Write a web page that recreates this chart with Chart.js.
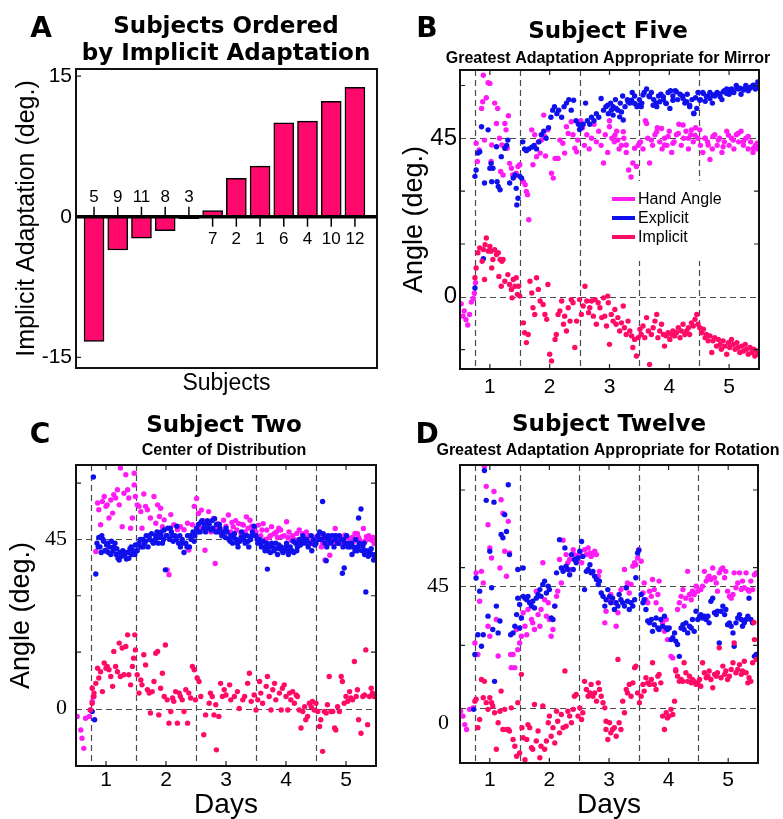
<!DOCTYPE html>
<html>
<head>
<meta charset="utf-8">
<script src="https://cdn.jsdelivr.net/npm/chart.js@4.4.1/dist/chart.umd.min.js"></script>
<style>
  body { margin: 0; background: #fff; }
  #fig { position: relative; width: 783px; height: 819px; overflow: hidden; background: #fff; }
  #fig canvas { position: absolute; }
</style>
</head>
<body>
<div id="fig">
  <canvas id="panelA" width="390" height="400" style="left:0;top:0"></canvas>
  <canvas id="panelB" width="393" height="400" style="left:390px;top:0"></canvas>
  <canvas id="panelC" width="390" height="419" style="left:0;top:400px"></canvas>
  <canvas id="panelD" width="393" height="419" style="left:390px;top:400px"></canvas>
</div>
<script>
// ---- panel A data ----
const subjectOrder = ['5', '9', '11', '8', '3', '7', '2', '1', '6', '4', '10', '12'];
const implicitAdapt = [-13.3, -3.55, -2.3, -1.5, -0.2, 0.65, 4.1, 5.4, 10.0, 10.2, 12.3, 13.8];
const yTicksA = [15, 0, -15];

// ---- scatter panels: [day, angle] ----
const dayTicks = [1, 2, 3, 4, 5];
const sessionBreaks = [0.75, 1.5, 2.5, 3.5, 4.5];
const angleLabels = [0, 45];

const bHand = [
  [0.52,-2],[0.55,-5.5],[0.57,-4],[0.6,-6.5],[0.63,-8],[0.66,-5],[0.69,-1.5],[0.72,-0.5],[0.74,1],[0.76,4],
  [0.77,43.6],[0.79,38.4],[0.82,41.7],[0.86,53.5],[0.88,55.4],[0.89,62.9],[0.91,44.5],[0.94,56.5],[0.97,60.8],[1.0,60.6],[1.02,38.4],[1.03,43.1],[1.08,55],[1.11,49.2],[1.13,53.5],[1.16,45],[1.18,35.6],[1.2,43.1],[1.22,34.6],[1.25,49.2],[1.27,47.4],[1.29,42.2],[1.31,51.4],[1.33,37.9],[1.36,36.5],[1.38,34.6],[1.41,34.2],[1.44,35.1],[1.47,37],[1.5,37.5],[1.56,32.7],[1.59,31.8],[1.61,29.9],[1.63,29],[1.65,21.9],
  [1.7,47.4],[1.72,37.5],[1.75,46],[1.78,39.8],[1.81,44],[1.84,40.8],[1.86,44.5],[1.9,51.6],[1.92,45.5],[1.93,40],[1.97,47.4],[2.03,35.1],[2.06,33.7],[2.09,39.3],[2.14,39.3],[2.17,44.5],[2.22,43.6],[2.25,40.8],[2.28,48.3],[2.31,46.4],[2.36,49.7],[2.39,46],[2.42,42.2],[2.45,41.2],[2.47,44.5],
  [2.52,50],[2.55,48],[2.58,43],[2.62,46],[2.66,42],[2.7,45],[2.74,49],[2.78,44],[2.82,47],[2.86,43],[2.9,38],[2.93,46],[2.97,41],[3.0,50],[3.04,45],[3.08,44],[3.12,47],[3.16,42],[3.2,43],[3.24,45],[3.28,41],[3.32,36],[3.36,34],[3.39,38],[3.42,32],[3.45,37],[3.48,43],
  [3.0,48.3],[3.09,45.9],[3.14,44.5],[3.23,46.9],[3.28,43.1],[3.42,42.2],[3.5,43.6],
  [3.52,44],[3.56,42],[3.6,50],[3.64,45],[3.67,38],[3.72,43],[3.76,46],[3.8,48],[3.84,44],[3.88,42],[3.92,45],[3.96,43],[4.0,47],[4.04,41],[4.08,44],[4.12,46],[4.16,49],[4.2,43],[4.24,45],[4.28,47],[4.32,42],[4.36,46],[4.4,44],[4.44,48],[4.48,45],
  [3.62,49.2],[3.7,44.5],[3.79,46.9],[3.87,47.8],[3.92,43.1],[3.98,45.5],[4.06,43.6],[4.15,46.4],[4.23,48.8],[4.32,45],[4.37,47.4],[4.43,45.9],
  [4.52,43],[4.56,41],[4.6,45],[4.64,44],[4.68,39],[4.72,42],[4.76,46],[4.8,43],[4.84,45],[4.88,41],[4.92,44],[4.96,47],[5.0,43],[5.04,45],[5.08,42],[5.12,46],[5.16,44],[5.2,47],[5.24,43],[5.28,45],[5.32,42],[5.36,44],[5.4,41],[5.44,43],[5.48,42],
  [4.51,47.4],[4.6,45],[4.65,43.1],[4.73,45.5],[4.82,44.5],[4.9,42.6],[4.99,45.9],[5.07,44.5],[5.15,46.4],[5.24,44.1],[5.32,45.5],[5.41,42.2],[5.47,43.6]
];
const bExplicit = [
  [0.75,2.5],[0.89,10.8],
  [0.75,34.2],[0.77,36],[0.8,40.8],[0.83,41.2],[0.86,48.3],[0.91,32.3],[0.97,47.4],[1.0,36.5],[1.02,37.9],[1.03,32.7],[1.05,36.5],[1.11,42.6],[1.12,32.7],[1.14,31.3],[1.17,30.4],[1.19,39.8],[1.25,42.2],[1.28,43],[1.3,44.5],[1.33,32.3],[1.39,33.7],[1.42,34.6],[1.44,30.8],[1.45,26.1],[1.47,28],[1.5,34.2],[1.53,33.7],
  [1.55,44],[1.58,42],[1.61,41.5],[1.65,42],[1.7,42.5],[1.74,43],[1.78,42],[1.82,44],[1.86,46],[1.9,47],[1.94,45],[1.98,48],[2.02,51],[2.05,53],[2.08,54],[2.12,52],[2.15,53],[2.2,51],[2.24,54],[2.28,55],[2.32,56],[2.36,53],[2.4,55.8],[2.44,50],[2.48,49],
  [2.5,47.5],[2.53,48],[2.56,49],[2.6,55],[2.63,50],[2.67,49],[2.7,51],[2.74,50],[2.78,52],[2.82,51],[2.86,56.3],[2.9,53],[2.94,54],[2.98,52],[3.02,55],[3.06,54],[3.1,56],[3.14,53],[3.18,55],[3.22,57],[3.26,54],[3.3,56],[3.34,55],[3.38,58],[3.42,57],[3.46,54],
  [2.97,54.4],[3.03,53],[3.06,51.6],[3.11,53.5],[3.17,51.1],[3.2,52.5],[3.23,50.2],[3.31,55.4],[3.37,55.8],[3.42,54.9],[3.48,54.4],
  [3.5,56],[3.54,55],[3.58,58],[3.62,59],[3.66,57],[3.7,58],[3.74,56],[3.78,55],[3.82,57],[3.86,57.5],[3.9,56],[3.94,55],[3.98,58],[4.02,58.5],[4.06,57],[4.1,58.5],[4.14,56],[4.18,57.5],[4.22,57],[4.26,55],[4.3,57.5],[4.34,54],[4.38,56],[4.41,52],[4.44,56.5],[4.48,58],
  [3.53,54],[3.56,57.3],[3.67,56.8],[3.73,54.4],[3.79,54],[3.84,55.4],[3.9,56.8],[3.95,54.9],[4.01,53.5],[4.06,55.8],[4.12,58.2],[4.23,56.3],[4.29,55.4],[4.34,54.4],[4.41,52.1],[4.46,53.5],
  [4.52,56],[4.56,58],[4.6,55.5],[4.64,57],[4.68,58],[4.72,55],[4.76,57],[4.8,58],[4.84,57.5],[4.88,56],[4.92,58.5],[4.96,59],[5.0,57.5],[5.04,59],[5.08,58],[5.12,60],[5.16,59],[5.2,57.5],[5.24,59],[5.28,60],[5.32,58.5],[5.36,59.5],[5.4,60],[5.44,59],[5.48,61],
  [4.51,55.8],[4.57,57.7],[4.62,56.8],[4.68,56.3],[4.73,57.3],[4.79,57.7],[4.85,56.8],[4.9,58.2],[4.96,57.7],[5.01,58.7],[5.07,58.2],[5.13,59.2],[5.18,59.2],[5.24,58.7],[5.29,59.6],[5.35,59.2],[5.41,60.1],[5.46,59.6]
];
const bImplicit = [
  [0.75,5.4],[0.77,8.2],[0.8,12.5],[0.83,13.9],[0.87,10.1],[0.89,13.4],[0.91,4.9],[0.92,14.8],[0.94,16.7],[0.97,13],[1.0,14.3],[1.02,12.9],[1.03,8.2],[1.05,10.6],[1.08,13.4],[1.11,12],[1.14,12.5],[1.15,5.8],[1.17,10.6],[1.19,3],[1.2,10.1],[1.22,10.6],[1.25,4.4],[1.3,6.3],[1.33,3.5],[1.36,2.1],[1.37,-0.3],[1.39,4.9],[1.42,3],[1.44,5.4],[1.46,0.7],[1.48,3],[1.5,0.2],
  [1.56,-7.4],[1.58,-10.2],[1.61,-13],[1.64,-10.7],[1.67,4.4],[1.7,1.1],[1.72,-3.1],[1.75,-5],[1.78,5.4],[1.81,2.1],[1.84,-1.2],[1.89,-2.2],[1.92,-5],[1.95,-6.4],[1.97,3.5],[2.0,-16.3],[2.03,-18.2],[2.09,-12.1],[2.11,-10.7],[2.14,-5],[2.17,-4],[2.2,-1.2],[2.23,-7.8],[2.25,-5.5],[2.28,-9.7],[2.31,-3.1],[2.34,-6.9],[2.36,-0.8],[2.39,-1.7],[2.42,-14.4],[2.45,-6.9],
  [2.5,-0.8],[2.53,-5],[2.56,-2.6],[2.59,3],[2.62,-1.2],[2.65,-4.5],[2.67,-3.1],[2.7,-1.2],[2.73,-5.5],[2.76,-0.8],[2.78,-7.8],[2.81,-1.7],[2.84,-3.1],[2.87,-5.9],[2.9,-0.3],[2.92,-5.5],[2.95,-8.3],[2.97,0.2],[2.98,-1.7],
  [3.0,-13.5],[3.03,-5],[3.06,-6.9],[3.09,-3.6],[3.11,-7.8],[3.14,-5.9],[3.17,-9.7],[3.2,-7.4],[3.23,-2.6],[3.25,-8.8],[3.28,-10.7],[3.31,-6.9],[3.34,-9.7],[3.37,-11.1],[3.39,-14.4],[3.42,-12.1],[3.45,-16.8],[3.48,-11.6],
  [3.51,-9.2],[3.53,-10.7],[3.56,-8.3],[3.59,-11.6],[3.62,-5.9],[3.65,-9.7],[3.67,-19.2],[3.7,-10.7],[3.73,-8.8],[3.76,-6.9],[3.79,-5],[3.81,-11.6],[3.84,-9.7],[3.87,-7.8],[3.9,-10.7],[3.92,-14],[3.95,-11.1],[3.98,-10.2],[4.01,-12.1],[4.04,-10.7],[4.06,-9.7],[4.09,-11.1],[4.12,-10.2],[4.15,-8.8],[4.18,-11.6],[4.2,-9.7],[4.23,-7.8],[4.26,-10.7],[4.29,-9.7],[4.32,-8.8],[4.34,-10.7],[4.37,-7.4],[4.4,-8.3],[4.43,-6.4],[4.46,-5],[4.48,-7.8],
  [4.51,-8.8],[4.54,-10.2],[4.57,-9.2],[4.6,-11.6],[4.62,-10.7],[4.65,-12.5],[4.68,-11.1],[4.71,-15.8],[4.73,-12.5],[4.76,-11.6],[4.79,-14],[4.82,-12.1],[4.85,-13.5],[4.87,-14.9],[4.9,-12.5],[4.93,-14],[4.96,-16.3],[4.99,-13],[5.01,-14.4],[5.04,-12.1],[5.07,-13.5],[5.1,-14.9],[5.13,-13],[5.15,-14.4],[5.18,-15.8],[5.21,-14],[5.24,-15.4],[5.27,-13.5],[5.29,-14.9],[5.32,-16.3],[5.35,-14.4],[5.38,-15.8],[5.41,-14.9],[5.43,-16.8],[5.46,-15.4],[5.49,-16.3]
];

const cHand = [
  [0.52,-2.1],[0.58,-5.7],[0.6,-7.9],[0.63,-10.6],[0.66,-2.6],[0.72,-2.1],[0.74,-0.4],[0.77,1.9],[0.8,3.2],
  [0.83,41.8],[0.86,54.7],[0.88,52.9],[0.91,48.9],[0.94,55.1],[0.97,56.4],[1.0,53.8],[1.02,54.2],[1.05,50.7],[1.08,55.5],[1.11,52],[1.13,56.9],[1.16,56],[1.19,58.2],[1.22,54.2],[1.24,64],[1.27,48.4],[1.3,57.3],[1.33,62.2],[1.36,58.2],[1.38,56],[1.41,48],[1.44,50.7],[1.47,62.6],[1.47,59.5],[1.49,56.4],[1.52,54.2],
  [1.55,53.8],[1.58,52.4],[1.6,48],[1.63,57.1],[1.66,53.8],[1.69,52.9],[1.74,50.7],[1.8,56.4],[1.83,49.3],[1.86,54.2],[1.89,51.1],[1.91,53.3],[1.94,48.4],[1.97,50.2],[2.02,36.9],[2.05,35.6],[2.08,51.6],[2.13,48.9],[2.19,47.6],[2.24,48.4],[2.3,47.6],[2.36,49.3],[2.38,42.2],[2.44,48.9],[2.47,53.8],
  [2.51,55.9],[2.54,51.9],[2.57,48],[2.59,52.8],[2.62,50],[2.65,42.1],[2.68,49.5],[2.71,52.4],[2.75,47],[2.79,50.6],[2.82,38.6],[2.84,48],[2.87,49.2],[2.92,47],[2.96,50.1],[3.0,48.5],[3.04,51.5],[3.08,47],[3.12,48.4],[3.16,50],[3.21,49.2],[3.25,46.5],[3.29,48.8],[3.34,51],[3.37,48],[3.4,50.1],[3.46,47.5],[3.5,47],
  [3.02,47],[3.1,49.5],[3.18,47.5],[3.27,49],[3.32,47],[3.43,48.5],[3.48,46],
  [3.54,48.8],[3.58,46],[3.62,49.2],[3.68,47.5],[3.72,45.5],[3.76,48.4],[3.8,46.5],[3.84,47],[3.88,48],[3.93,45.7],[3.97,46],[4.01,49.7],[4.05,47],[4.09,44.8],[4.14,45],[4.18,46.6],[4.22,47.5],[4.26,44.4],[4.3,45.5],[4.34,47],[4.38,46],[4.43,43.9],[4.47,45.5],
  [3.6,47.5],[3.66,45],[3.74,46],[3.86,45.5],[3.91,47.5],[4.03,45.5],[4.11,46],[4.2,44],[4.28,46.5],[4.36,45],[4.45,44.5],
  [4.51,44.8],[4.55,46],[4.59,43],[4.63,45],[4.65,39.5],[4.69,44],[4.73,40.8],[4.77,45.5],[4.82,47.9],[4.86,45],[4.9,43.9],[4.94,44.5],[4.98,46.1],[5.02,44],[5.07,45.3],[5.11,45.5],[5.15,46.6],[5.19,46.5],[5.23,44.8],[5.26,44],[5.29,47.9],[5.34,45.7],[5.38,46],[5.43,44.8],[5.45,45.5],[5.47,43.9],
  [4.53,45.5],[4.61,44],[4.71,46],[4.79,44],[4.84,46],[4.92,45],[5.0,45.5],[5.05,44],[5.13,44.5],[5.21,45.5],[5.32,44.5],[5.4,45],[5.49,44.5]
];
const cExplicit = [
  [0.77,-0.8],[0.81,-3],[0.79,61.6],[0.83,35.8],
  [0.85,44],[0.88,45.5],[0.9,43],[0.93,46],[0.96,44.5],[0.98,42],[1.01,43.5],[1.04,41.5],[1.06,43],[1.09,44.5],[1.12,42],[1.15,44],[1.17,41],[1.2,40],[1.23,41.5],[1.26,40.5],[1.28,42],[1.31,41],[1.34,39.8],[1.37,41.5],[1.4,42.5],[1.43,41],[1.46,42],[1.49,43.5],
  [0.87,43],[0.92,41.5],[0.95,45],[1.0,42],[1.03,44],[1.08,41],[1.13,43],[1.18,42.5],[1.22,39.5],[1.27,41],[1.33,41.5],[1.38,40],[1.42,43],[1.48,41],
  [1.52,42],[1.55,44],[1.58,43],[1.61,45],[1.64,44],[1.67,46],[1.7,43],[1.73,45],[1.76,46.5],[1.79,44],[1.82,45],[1.85,47],[1.88,45.5],[1.91,46],[1.94,44],[1.97,47.5],[1.99,36.9],[2.0,46],[2.03,48],[2.06,45],[2.09,47],[2.12,44.5],[2.15,46],[2.18,48.5],[2.21,44],[2.24,43],[2.27,45],[2.3,41.5],[2.33,44],[2.36,46],[2.39,43],[2.42,45],[2.45,47],
  [1.53,43.5],[1.57,45],[1.62,43],[1.66,44.5],[1.72,46],[1.77,44.5],[1.83,46],[1.87,44],[1.92,47],[1.96,45],[2.02,46],[2.07,48],[2.11,46],[2.17,45],[2.23,46],[2.28,44],[2.35,43],[2.4,46],[2.47,44.5],
  [2.48,46],[2.51,48],[2.54,49],[2.57,47],[2.6,50],[2.63,48],[2.66,47],[2.69,50],[2.72,49],[2.75,47.5],[2.78,48],[2.81,50.5],[2.84,49],[2.87,47],[2.9,48],[2.93,46],[2.96,47],[2.99,45.5],[3.02,47],[3.05,45],[3.08,46],[3.11,44],[3.14,46.5],[3.17,45],[3.2,43],[3.23,44.5],[3.26,47],[3.29,45],[3.32,44],[3.35,46],[3.38,43],[3.41,45],[3.44,47],[3.47,48.5],
  [2.53,47],[2.58,49.5],[2.64,49],[2.7,48],[2.77,50],[2.83,47],[2.89,49],[2.95,46],[3.0,48],[3.07,44.5],[3.13,45.5],[3.19,44],[3.25,45.5],[3.31,46],[3.37,44.5],[3.43,46],
  [3.5,46],[3.53,44],[3.56,45],[3.59,43],[3.62,44.5],[3.65,42],[3.68,44],[3.69,37.1],[3.71,43],[3.74,41.5],[3.77,43],[3.8,42],[3.83,44],[3.86,41],[3.89,42.5],[3.92,43],[3.95,41.5],[3.98,42],[4.01,44],[4.04,41],[4.07,43],[4.1,42],[4.13,41.5],[4.16,44],[4.19,43],[4.22,45],[4.25,44],[4.28,46],[4.31,44],[4.34,45],[4.37,43],[4.4,44],[4.43,42],[4.46,45],
  [3.52,45],[3.58,44],[3.64,43],[3.7,42],[3.76,44],[3.82,42.5],[3.88,43.5],[3.94,42],[4.0,43],[4.06,42],[4.12,44.5],[4.18,42],[4.24,43.5],[4.3,45],[4.36,44],[4.42,46],[4.48,43.5],
  [4.5,44],[4.53,46],[4.56,47],[4.59,45],[4.61,55.1],[4.62,46.5],[4.65,44],[4.67,39.3],[4.68,43],[4.71,45],[4.74,44],[4.77,46],[4.8,43],[4.83,45],[4.86,44],[4.89,46],[4.92,45],[4.94,36],[4.95,43],[4.97,37.4],[4.98,44],[5.01,46],[5.04,44],[5.07,43],[5.1,41],[5.13,43],[5.16,45],[5.19,42],[5.21,50.7],[5.22,44],[5.25,53.1],[5.27,42],[5.28,43],[5.31,41],[5.33,31],[5.34,42],[5.37,40.5],[5.4,42],[5.43,41],[5.46,39.5],[5.49,41],
  [4.55,45],[4.64,45.5],[4.7,46],[4.76,44.5],[4.82,46],[4.88,44],[4.96,45],[5.03,43],[5.09,44],[5.15,42],[5.2,43],[5.3,44],[5.36,41.5],[5.42,42.5],[5.48,40]
];
const cImplicit = [
  [0.74,-0.4],[0.77,1.4],[0.79,3.2],[0.77,5.4],[0.8,4.1],[0.83,6.7],[0.86,10.7],[0.88,8.1],[0.91,9.8],[0.94,4.5],[0.97,12.1],[1.0,10.7],[1.02,11.2],[1.05,10.3],[1.08,8.5],[1.11,5.9],[1.13,15.2],[1.16,11.2],[1.19,9.8],[1.22,17.4],[1.24,8.5],[1.27,16.1],[1.3,9],[1.33,16.5],[1.36,19.6],[1.38,9],[1.41,6.3],[1.44,11.2],[1.46,13.4],[1.48,19.6],[1.49,15.6],
  [1.52,9],[1.55,4.1],[1.58,7.6],[1.6,6.3],[1.63,14.3],[1.66,11.6],[1.69,5],[1.72,4.1],[1.74,-1.2],[1.77,4.5],[1.8,7.2],[1.83,14.7],[1.86,15.2],[1.88,-1.7],[1.91,5.4],[1.94,9.4],[1.97,3.2],[1.99,16.9],[2.02,2.3],[2.05,-3.9],[2.08,-0.8],[2.11,2.8],[2.13,1.9],[2.16,4.5],[2.19,-3.9],[2.22,4.1],[2.24,3.2],[2.27,2.3],[2.3,-0.8],[2.33,5],[2.36,-3.9],[2.38,4.1],[2.41,2.8],[2.44,11.2],[2.47,10.3],[2.49,2.3],
  [2.52,8.1],[2.55,7.2],[2.58,3.2],[2.63,-7],[2.66,-1.7],[2.72,1.4],[2.74,4.1],[2.77,3.2],[2.8,-1.7],[2.83,1],[2.84,-11],[2.88,-2.1],[2.91,6.7],[2.94,3.2],[2.97,5],
  [3.0,3.6],[3.06,6.3],[3.08,2.3],[3.14,3.2],[3.19,4.5],[3.22,0],[3.28,2.3],[3.31,3.2],[3.36,6.7],[3.39,9.4],[3.42,1.9],[3.47,3.6],[3.5,-0.4],[3.53,2.3],[3.56,7.2],[3.58,4.1],[3.61,1.4],[3.67,5.9],[3.69,8.5],[3.72,3.2],[3.75,-0.4],[3.78,5],[3.81,6.7],[3.83,2.3],[3.89,4.1],[3.92,-0.4],[3.94,5.4],[3.97,6.3],[4.0,3.2],[4.03,-0.4],[4.06,4.1],[4.08,2.3],[4.11,4.5],[4.14,1.4],[4.17,3.6],[4.19,3.2],[4.22,-0.4],[4.25,-5.2],[4.28,-0.8],[4.31,0.5],[4.33,-3],[4.36,-2.1],[4.39,1.4],[4.42,0.5],[4.44,1.9],[4.47,-0.4],
  [4.5,1.4],[4.53,-0.8],[4.56,-4.8],[4.58,-3],[4.61,-11.4],[4.64,-0.8],[4.67,-1.2],[4.69,1],[4.72,8.5],[4.75,-0.8],[4.78,-0.8],[4.81,-5.2],[4.83,-5.7],[4.86,0.5],[4.89,-0.8],[4.92,8.5],[4.94,7.2],[4.97,1.4],[5.0,3.2],[5.03,1.9],[5.06,4.5],[5.08,2.8],[5.11,2.3],[5.14,12.5],[5.17,3.2],[5.19,5],[5.21,-3],[5.25,-6.6],[5.28,3.2],[5.31,3.6],[5.33,15.6],[5.36,-4.3],[5.39,3.2],[5.42,5.4],[5.44,4.1],[5.47,3.2]
];

const dHand = [
  [0.51,3.9],[0.55,2.3],[0.58,-0.5],[0.61,-2.1],[0.66,4.5],[0.72,5],
  [0.75,26.3],[0.77,49.3],[0.8,22.5],[0.83,40],[0.86,49.8],[0.89,46],[0.91,84.3],[0.94,77.7],[0.97,65.1],[0.97,31.8],[1.0,57.5],[1.0,28.5],[1.03,54.2],[1.07,76],[1.11,34],[1.14,22],[1.17,50.9],[1.19,73.3],[1.22,68.9],[1.25,56.4],[1.28,48.2],[1.31,66.2],[1.33,55.8],[1.35,22.5],[1.36,18.2],[1.39,22.5],[1.42,18.2],[1.45,30.7],[1.47,24.1],
  [1.5,26.3],[1.53,28.5],[1.56,36.2],[1.59,31.8],[1.62,29],[1.64,37.3],[1.67,39.5],[1.7,34],[1.72,32.9],[1.75,30.7],[1.78,43.3],[1.81,35.6],[1.84,31.8],[1.86,37.3],[1.89,52.6],[1.92,40.5],[1.95,35.1],[1.98,39.5],[2.0,34],[2.03,28.5],[2.06,30.7],[2.09,38.4],[2.12,41.6],[2.14,43.3],[2.17,53.7],[2.2,46],[2.23,60],[2.26,50.9],[2.28,55.3],[2.31,52.6],[2.34,53.7],[2.37,50.4],[2.4,56.9],[2.42,55.3],[2.45,53.1],[2.48,54.7],
  [2.51,55.8],[2.54,52.6],[2.59,56.9],[2.62,55.3],[2.65,57.5],[2.68,55.8],[2.7,54.7],[2.73,55.3],[2.76,56.4],[2.79,55.3],[2.82,48.2],[2.84,49.8],[2.93,32.9],[2.95,36.7],[2.98,40.5],[3.03,42.2],[3.09,39.5],[3.12,31.8],[3.15,36.2],[3.2,43.8],[3.26,50.4],[3.29,44.4],[3.31,46],[3.34,42.7],[3.37,45.5],[3.4,51.5],[3.43,52.6],[3.45,52],[3.48,54.2],
  [3.5,56.9],[3.54,53.1],[3.57,42.7],[3.59,46],[3.62,40.5],[3.65,39.5],[3.68,43.3],[3.71,41.6],[3.73,47.1],[3.76,43.8],[3.79,39.5],[3.82,42.2],[3.84,46.6],[3.87,37.3],[3.9,32.9],[3.93,30.1],[3.96,34],[3.98,27.4],[4.04,21.9],[4.07,21.4],[4.12,17.6],[4.15,37.3],[4.18,39.5],[4.21,41.6],[4.24,43.8],[4.26,38.4],[4.29,41],[4.32,49.8],[4.35,42.2],[4.38,40.5],[4.4,43.3],[4.43,42.2],[4.46,44.9],[4.49,43.3],
  [4.54,43.8],[4.57,44.9],[4.6,49.8],[4.63,46.6],[4.66,47.7],[4.68,48.2],[4.71,47.1],[4.74,50.9],[4.77,47.7],[4.8,46],[4.82,43.3],[4.85,49.3],[4.88,50.4],[4.91,50.9],[4.94,47.7],[4.96,49.8],[4.99,43.3],[5.02,41.6],[5.05,41],[5.08,42.2],[5.1,49.3],[5.13,44.4],[5.16,46],[5.19,49.3],[5.22,43.8],[5.24,46.6],[5.27,44.4],[5.3,49.3],[5.33,43.8],[5.35,43.3],[5.38,46.6],[5.41,43.8],[5.44,48.7],[5.47,49.3]
];
const dExplicit = [
  [0.73,4.5],
  [0.75,22.5],[0.77,47.6],[0.8,29],[0.83,43.3],[0.86,25.2],[0.89,29],[0.91,82.9],[0.94,73.1],[0.97,35.1],[1.0,56.4],[1.03,44.4],[1.05,30.7],[1.07,72.5],[1.08,13.7],[1.11,38.4],[1.14,29.6],[1.17,33.5],[1.19,61.9],[1.22,60.8],[1.25,68.4],[1.28,62.9],[1.31,78.2],[1.33,55.3],[1.35,29],[1.39,29.6],[1.42,31.8],[1.45,35.6],[1.47,50.4],[1.47,41],
  [1.5,38.9],[1.5,31.2],[1.53,34.5],[1.56,41.6],[1.56,50.9],[1.59,41],[1.62,40.5],[1.64,41.6],[1.67,39.5],[1.7,38.4],[1.72,40],[1.75,37.8],[1.78,41],[1.81,42.2],[1.84,43.8],[1.86,41.6],[1.89,45.5],[1.92,46.6],[1.95,42.7],[1.98,44.9],[2.0,43.8],[2.03,34.5],[2.06,34],[2.09,38.4],[2.12,49.3],[2.17,60.2],[2.2,50.9],[2.23,49.8],[2.26,57.5],[2.28,51.5],[2.31,50.4],[2.34,48.7],[2.37,55.3],[2.4,50.4],[2.42,53.7],[2.45,52.6],[2.48,54.2],
  [2.51,56.4],[2.54,59.6],[2.56,54.7],[2.59,43.8],[2.62,49.8],[2.65,50.4],[2.68,52],[2.7,49.3],[2.73,49.8],[2.76,48.2],[2.79,47.1],[2.82,45.5],[2.84,46.6],[2.87,42.7],[2.9,41.6],[2.93,38.4],[2.95,40.5],[2.98,43.8],[3.01,41.6],[3.03,39.5],[3.06,41],[3.09,37.3],[3.12,39.5],[3.15,38.4],[3.17,42.2],[3.2,40.5],[3.23,39.5],[3.26,38.4],[3.29,44.4],[3.31,40],[3.34,37.3],[3.37,39.5],[3.4,38.4],[3.43,40.5],[3.45,47.7],[3.48,55.8],
  [3.5,56.7],[3.54,42.2],[3.57,39.5],[3.59,40.5],[3.62,37.3],[3.65,33.5],[3.68,32.9],[3.71,34],[3.73,30.1],[3.76,32.3],[3.79,34.5],[3.82,31.2],[3.84,30.7],[3.87,34],[3.9,31.8],[3.93,35.1],[3.96,31.2],[3.98,30.7],[4.01,31.2],[4.04,27.4],[4.07,28],[4.1,29.6],[4.12,26.9],[4.15,25.8],[4.18,21.9],[4.21,31.2],[4.24,32.3],[4.26,30.7],[4.29,32.9],[4.32,29.6],[4.35,31.8],[4.38,31.2],[4.4,34],[4.43,30.1],[4.46,36.7],[4.49,34],
  [4.52,35.1],[4.54,35.6],[4.57,34.5],[4.6,35.1],[4.63,34],[4.66,35.1],[4.68,32.9],[4.71,40],[4.74,41],[4.77,36.2],[4.8,35.6],[4.82,36.7],[4.85,26.3],[4.88,36.7],[4.91,38.4],[4.94,35.6],[4.96,37.3],[4.99,32.3],[5.02,32.9],[5.05,31.8],[5.08,29.6],[5.1,25.2],[5.13,32.9],[5.16,34.5],[5.19,35.6],[5.22,34],[5.24,31.8],[5.27,32.9],[5.3,34],[5.33,35.1],[5.35,41],[5.38,34],[5.41,32.9],[5.44,21.9],[5.47,22.5]
];
const dImplicit = [
  [0.75,7.2],[0.77,7.8],[0.8,-1.5],[0.83,1.2],[0.86,14.3],[0.89,8.3],[0.91,13.7],[0.94,6.7],[0.97,4.5],[1.0,8.3],[1.03,6.7],[1.05,5.6],[1.08,3.4],[1.11,-8.6],[1.14,0.1],[1.17,3.9],[1.19,10.5],[1.22,-2.1],[1.25,4.5],[1.28,-2.1],[1.31,-2.1],[1.33,-2.6],[1.36,5],[1.39,-5.4],[1.42,-7.6],[1.45,-10.9],[1.47,6.7],
  [1.5,-9.8],[1.53,16],[1.54,-1.5],[1.56,-4.8],[1.59,-12],[1.62,-5.4],[1.64,-0.5],[1.67,-1.5],[1.7,-8.1],[1.72,-8.6],[1.75,6.1],[1.78,-5.9],[1.81,-2.6],[1.84,-11.4],[1.86,-7.6],[1.89,5.6],[1.92,-8.6],[1.95,-5.9],[1.98,0.1],[2.0,2.3],[2.03,-4.3],[2.06,-1.5],[2.09,-6.5],[2.12,3.9],[2.14,0.6],[2.17,-3.2],[2.2,2.8],[2.23,-1.5],[2.26,17.1],[2.28,-1],[2.31,3.9],[2.34,2.3],[2.37,0.1],[2.4,4.5],[2.42,8.8],[2.45,9.4],[2.48,2.3],
  [2.51,5],[2.54,1.2],[2.56,3.4],[2.59,13.7],[2.62,11],[2.65,8.8],[2.68,9.9],[2.7,12.7],[2.73,8.8],[2.76,9.9],[2.79,7.2],[2.82,13.2],[2.84,11],[2.87,8.8],[2.9,6.7],[2.93,5],[2.95,0.6],[2.95,-2.1],[2.98,-5.4],[3.01,0.1],[3.03,-3.2],[3.06,-2.1],[3.09,-1.5],[3.12,-4.3],[3.15,20.9],[3.17,0.1],[3.2,-2.1],[3.23,7.2],[3.26,3.4],[3.29,11],[3.31,9.9],[3.34,12.7],[3.37,8.8],[3.4,13.2],[3.43,18.2],[3.45,18.7],[3.48,9.9],
  [3.51,6.7],[3.54,8.8],[3.57,12.7],[3.59,10.5],[3.62,14.9],[3.65,13.2],[3.68,12.7],[3.71,14.3],[3.73,19.8],[3.76,12.7],[3.79,11],[3.82,15.4],[3.84,16],[3.87,13.2],[3.9,2.3],[3.93,-2.1],[3.96,3.4],[3.98,1.7],[4.01,2.3],[4.04,4.5],[4.07,2.8],[4.1,7.2],[4.12,17.1],[4.15,15.4],[4.18,13.7],[4.21,14.3],[4.24,13.7],[4.26,19.8],[4.29,16.5],[4.32,13.7],[4.35,15.4],[4.38,13.2],[4.4,14.3],[4.43,13.7],[4.46,12.7],[4.49,13.2],
  [4.52,14.3],[4.54,12.1],[4.57,19.8],[4.6,16.5],[4.63,14.9],[4.66,15.4],[4.68,17.1],[4.71,14.3],[4.74,11.6],[4.77,16],[4.8,15.4],[4.82,16.5],[4.85,24.7],[4.88,14.9],[4.91,18.7],[4.94,16],[4.96,17.1],[4.99,14.3],[5.02,15.4],[5.05,17.6],[5.08,19.8],[5.1,26.3],[5.13,16.5],[5.16,17.6],[5.19,19.2],[5.22,16],[5.24,17.1],[5.27,20.3],[5.3,16.5],[5.33,13.2],[5.35,14.9],[5.38,13.7],[5.41,19.8],[5.43,33],[5.44,27.4],[5.47,20.9]
];

// ---- look ----
const handColor = '#ff1cf4';
const explicitColor = '#1010ec';
const implicitColor = '#ff0a66';
const barColor = '#ff0a6c';
const sans = '"Liberation Sans", Arial, sans-serif';
const serif = '"Liberation Serif", "Times New Roman", serif';
const titleFont = 'bold 23px "DejaVu Sans", sans-serif';
const letterFont = 'bold 28px "DejaVu Sans", sans-serif';
const subFont = 'bold 16px ' + sans;

Chart.defaults.color = '#000';

function toXY(arr) {
  return arr.map(p => ({ x: p[0], y: p[1] }));
}

// dashed guides, inner ticks, frame, legend and panel text
const decor = {
  id: 'decor',
  beforeDatasetsDraw(chart, args, o) {
    const { ctx, chartArea: a } = chart;
    const x = chart.scales.x, y = chart.scales.y;
    ctx.save();
    ctx.strokeStyle = '#4a4a4a';
    ctx.lineWidth = 1.2;
    ctx.setLineDash([6, 4]);
    ctx.beginPath();
    (o.vLines || []).forEach(v => {
      const px = Math.round(x.getPixelForValue(v)) + 0.5;
      ctx.moveTo(px, a.top); ctx.lineTo(px, a.bottom);
    });
    (o.hLines || []).forEach(v => {
      const py = Math.round(y.getPixelForValue(v)) + 0.5;
      ctx.moveTo(a.left, py); ctx.lineTo(a.right, py);
    });
    ctx.stroke();
    ctx.restore();
  },
  afterDatasetsDraw(chart, args, o) {
    const { ctx, chartArea: a } = chart;
    const x = chart.scales.x, y = chart.scales.y;
    ctx.save();
    if (o.zeroLine) {
      const y0 = y.getPixelForValue(0);
      ctx.strokeStyle = '#000';
      ctx.lineWidth = 3.5;
      ctx.beginPath(); ctx.moveTo(a.left, y0); ctx.lineTo(a.right, y0); ctx.stroke();
      ctx.lineWidth = 1.5;
      ctx.font = '17px ' + sans;
      ctx.fillStyle = '#000';
      ctx.textAlign = 'center';
      ctx.textBaseline = 'middle';
      o.zeroLine.labels.forEach((lab, i) => {
        const px = x.getPixelForValue(i + 1);
        const up = o.zeroLine.values[i] < 0;
        ctx.beginPath();
        ctx.moveTo(px, y0);
        ctx.lineTo(px, up ? y0 - 10 : y0 + 10);
        ctx.stroke();
        ctx.fillText(lab, px, up ? y0 - 19 : y0 + 23);
      });
    }
    ctx.strokeStyle = '#222';
    ctx.lineWidth = 1.2;
    ctx.beginPath();
    (o.yMarks || []).forEach(v => {
      const py = y.getPixelForValue(v);
      ctx.moveTo(a.left, py); ctx.lineTo(a.left + 5, py);
      if (o.bothSides) { ctx.moveTo(a.right, py); ctx.lineTo(a.right - 5, py); }
    });
    (o.xMarks || []).forEach(v => {
      const px = x.getPixelForValue(v);
      ctx.moveTo(px, a.bottom); ctx.lineTo(px, a.bottom - 5);
      ctx.moveTo(px, a.top); ctx.lineTo(px, a.top + 5);
    });
    ctx.stroke();
    ctx.strokeStyle = '#111';
    ctx.lineWidth = 2;
    ctx.strokeRect(a.left, a.top, a.right - a.left, a.bottom - a.top);
    if (o.legend) {
      const L = o.legend;
      ctx.fillStyle = '#fff';
      ctx.fillRect(L.boxX, L.boxY, L.boxW, L.boxH);
      ctx.font = '16px ' + sans;
      ctx.textAlign = 'left';
      ctx.textBaseline = 'middle';
      chart.data.datasets.forEach((ds, i) => {
        const ly = L.y + i * L.step;
        ctx.strokeStyle = ds.backgroundColor;
        ctx.lineWidth = 4;
        ctx.beginPath(); ctx.moveTo(L.x, ly); ctx.lineTo(L.x + 23, ly); ctx.stroke();
        ctx.fillStyle = '#000';
        ctx.fillText(ds.label, L.x + 26, ly + 1);
      });
    }
    ctx.restore();
  },
  afterDraw(chart, args, o) {
    const ctx = chart.ctx;
    ctx.save();
    ctx.fillStyle = '#000';
    ctx.textBaseline = 'alphabetic';
    (o.texts || []).forEach(t => {
      ctx.font = t.font;
      ctx.textAlign = t.align || 'center';
      ctx.fillText(t.text, t.x, t.y);
    });
    ctx.restore();
  }
};
Chart.register(decor);

// ---- panel A ----
new Chart(document.getElementById('panelA'), {
  type: 'bar',
  data: {
    datasets: [{
      data: implicitAdapt.map((v, i) => ({ x: i + 1, y: v })),
      backgroundColor: barColor,
      borderColor: '#000',
      borderWidth: 1.5,
      borderSkipped: false,
      barThickness: 20
    }]
  },
  options: {
    responsive: false,
    animation: false,
    layout: { padding: { top: 69, right: 13, bottom: 0, left: 0 } },
    plugins: {
      legend: { display: false },
      tooltip: { enabled: false },
      decor: {
        zeroLine: { labels: subjectOrder, values: implicitAdapt },
        yMarks: [15, -15],
        texts: [
          { text: 'A', x: 41, y: 37, font: letterFont },
          { text: 'Subjects Ordered', x: 226, y: 33, font: titleFont },
          { text: 'by Implicit Adaptation', x: 226, y: 60, font: titleFont }
        ]
      }
    },
    scales: {
      x: {
        type: 'linear', min: 0.24, max: 12.93, offset: false,
        ticks: { display: false },
        grid: { display: false, offset: false },
        border: { display: false },
        afterFit: s => { s.height = 32; },
        title: { display: true, text: 'Subjects', font: { family: sans, size: 23, lineHeight: 1 }, padding: { top: 0, bottom: 5 } }
      },
      y: {
        min: -16.13, max: 15.75,
        afterBuildTicks: s => { s.ticks = yTicksA.map(v => ({ value: v })); },
        afterFit: s => { s.width = 76; },
        grid: { display: false, drawTicks: false },
        border: { display: false },
        ticks: { font: { family: sans, size: 21 }, padding: 4 },
        title: { display: true, text: 'Implicit Adaptation (deg.)', font: { family: sans, size: 25, lineHeight: 1 }, padding: { top: 15, bottom: 0 } }
      }
    }
  }
});

// ---- panels B, C, D ----
function anglePanel(id, hand, explicit, implicit, cfg) {
  return new Chart(document.getElementById(id), {
    type: 'scatter',
    data: {
      datasets: [
        { label: 'Hand Angle', data: toXY(hand), backgroundColor: handColor, order: 3 },
        { label: 'Explicit', data: toXY(explicit), backgroundColor: explicitColor, order: 2 },
        { label: 'Implicit', data: toXY(implicit), backgroundColor: implicitColor, order: 1 }
      ]
    },
    options: {
      responsive: false,
      animation: false,
      layout: { padding: { top: cfg.top, right: cfg.right, bottom: 0, left: 0 } },
      elements: { point: { radius: 2.7, hoverRadius: 2.7, borderWidth: 0 } },
      plugins: {
        legend: { display: false },
        tooltip: { enabled: false },
        decor: {
          vLines: sessionBreaks,
          hLines: cfg.hLines,
          yMarks: cfg.yMarks,
          bothSides: true,
          xMarks: dayTicks,
          legend: cfg.legend,
          texts: cfg.texts
        }
      },
      scales: {
        x: {
          type: 'linear', min: 0.5, max: 5.5,
          afterBuildTicks: s => { s.ticks = dayTicks.map(v => ({ value: v })); },
          afterFit: s => { s.height = cfg.bottomH; },
          grid: { display: false, drawTicks: false },
          border: { display: false },
          ticks: { font: { family: sans, size: 21, lineHeight: 1.2 }, padding: cfg.xPad, maxRotation: 0 },
          title: { display: cfg.xTitle, text: 'Days', font: { family: sans, size: 28, lineHeight: 1 }, padding: { top: 0, bottom: 0 } }
        },
        y: {
          min: cfg.yMin, max: cfg.yMax,
          afterBuildTicks: s => { s.ticks = angleLabels.map(v => ({ value: v })); },
          afterFit: s => { s.width = cfg.leftW; },
          grid: { display: false, drawTicks: false },
          border: { display: false },
          ticks: { font: cfg.yFont, padding: cfg.yPad },
          title: { display: cfg.yTitle, text: 'Angle (deg.)', font: { family: sans, size: 27, lineHeight: 1 }, padding: { top: cfg.yTitlePad, bottom: 0 } }
        }
      }
    }
  });
}

anglePanel('panelB', bHand, bExplicit, bImplicit, {
  top: 70, right: 24, leftW: 70, bottomH: 31,
  yMin: -20.5, yMax: 64.4,
  hLines: [0, 45], yMarks: [-15, 15, 30, 60],
  xPad: 6, xTitle: false,
  yFont: { family: sans, size: 24 }, yPad: 3,
  yTitle: true, yTitlePad: 11.5,
  legend: { x: 222, y: 199, step: 19, boxX: 214, boxY: 181, boxW: 126, boxH: 80 },
  texts: [
    { text: 'B', x: 37, y: 37, font: letterFont },
    { text: 'Subject Five', x: 218, y: 38, font: titleFont },
    { text: 'Greatest Adaptation Appropriate for Mirror', x: 218, y: 63, font: subFont }
  ]
});

anglePanel('panelC', cHand, cExplicit, cImplicit, {
  top: 65, right: 14, leftW: 76, bottomH: 53,
  yMin: -15.3, yMax: 64.8,
  hLines: [0, 45], yMarks: [15, 30, 60],
  xPad: 2, xTitle: true,
  yFont: { family: serif, size: 22 }, yPad: 9,
  yTitle: true, yTitlePad: 8.5,
  texts: [
    { text: 'C', x: 40, y: 43, font: letterFont },
    { text: 'Subject Two', x: 224, y: 32, font: titleFont },
    { text: 'Center of Distribution', x: 224, y: 55, font: subFont }
  ]
});

anglePanel('panelD', dHand, dExplicit, dImplicit, {
  top: 65, right: 25, leftW: 70, bottomH: 56,
  yMin: -13.1, yMax: 84.7,
  hLines: [5, 45], yMarks: [25.5, 51, 76.5],
  xPad: 5, xTitle: true,
  yFont: { family: serif, size: 22 }, yPad: 11,
  yTitle: false, yTitlePad: 0,
  texts: [
    { text: 'D', x: 37, y: 43, font: letterFont },
    { text: 'Subject Twelve', x: 219, y: 31, font: titleFont },
    { text: 'Greatest Adaptation Appropriate for Rotation', x: 218, y: 55, font: subFont }
  ]
});
</script>
</body>
</html>
